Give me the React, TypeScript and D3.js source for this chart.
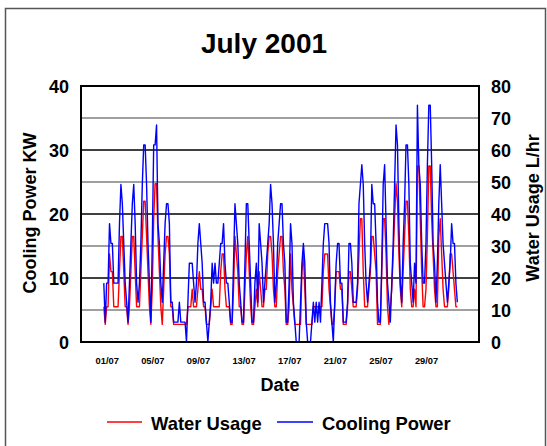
import React from "react";
import * as d3 from "d3";

// Date axis: day offset from 01/07 (00:00)
const tickDays = [0, 4, 8, 12, 16, 20, 24, 28];
const tickLabels = ["01/07", "05/07", "09/07", "13/07", "17/07", "21/07", "25/07", "29/07"];
const leftTicks = [0, 10, 20, 30, 40];
const rightTicks = [0, 10, 20, 30, 40, 50, 60, 70, 80];
const gridMajor = [10, 20, 30];
const gridMinor = [5, 15, 25, 35];

// samples every 3 hours starting at day -0.3
const startDay = -0.3;
const stepDays = 0.125;

// Cooling Power (KW), one row per day
const coolingPower: number[] = [
  9.2, 3.1, 9.2, 9.2, 18.5, 15.4, 15.4, 9.2,
  9.2, 9.2, 9.2, 18.5, 24.6, 21.6, 15.4, 9.2,
  6.2, 3.1, 9.2, 15.4, 21.6, 24.6, 18.5, 9.2,
  6.2, 9.2, 15.4, 24.6, 30.8, 30.8, 24.6, 15.4,
  9.2, 3.1, 15.4, 30.8, 30.8, 33.9, 18.5, 15.4,
  9.2, 6.2, 12.3, 18.5, 21.6, 21.6, 18.5, 6.2,
  6.2, 3.1, 3.1, 3.1, 3.1, 6.2, 3.1, 3.1,
  3.1, 3.1, 0, 6.2, 12.3, 12.3, 12.3, 9.2,
  6.2, 9.2, 15.4, 18.5, 15.4, 12.3, 6.2, 6.2,
  3.1, 0, 3.1, 6.2, 12.3, 9.2, 12.3, 9.2,
  9.2, 12.3, 15.4, 15.4, 18.5, 12.3, 9.2, 9.2,
  6.2, 3.1, 3.1, 12.3, 21.6, 18.5, 15.4, 9.2,
  6.2, 3.1, 3.1, 12.3, 21.6, 21.6, 15.4, 9.2,
  3.1, 3.1, 9.2, 12.3, 6.2, 18.5, 15.4, 12.3,
  6.2, 9.2, 12.3, 15.4, 18.5, 24.6, 21.6, 15.4,
  6.2, 9.2, 15.4, 18.5, 21.6, 21.6, 15.4, 12.3,
  3.1, 3.1, 9.2, 18.5, 15.4, 6.2, 3.1, 0,
  0, 0, 6.2, 12.3, 15.4, 12.3, 3.1, 0,
  0, 0, 3.1, 6.2, 3.1, 6.2, 3.1, 6.2,
  3.1, 9.2, 15.4, 18.5, 18.5, 18.5, 15.4, 6.2,
  3.1, 0, 6.2, 12.3, 15.4, 15.4, 9.2, 9.2,
  3.1, 3.1, 3.1, 6.2, 15.4, 15.4, 12.3, 6.2,
  6.2, 6.2, 9.2, 21.6, 24.6, 27.7, 24.6, 15.4,
  9.2, 6.2, 9.2, 12.3, 24.6, 21.6, 21.6, 15.4,
  6.2, 3.1, 3.1, 12.3, 24.6, 27.7, 18.5, 9.2,
  6.2, 3.1, 9.2, 15.4, 24.6, 33.9, 30.8, 18.5,
  9.2, 6.2, 15.4, 21.6, 30.8, 30.8, 24.6, 12.3,
  9.2, 6.2, 12.3, 9.2, 37.0, 27.7, 24.6, 15.4,
  9.2, 9.2, 15.4, 27.7, 37.0, 37.0, 27.7, 15.4,
  12.3, 6.2, 12.3, 21.6, 27.7, 21.6, 15.4, 12.3,
  9.2, 6.2, 9.2, 12.3, 18.5, 15.4, 15.4, 9.2,
  6.2,
];

// Water Usage (L/hr), one row per day
const waterUsage: number[] = [
  11, 5.5, 11, 11, 27.5, 22, 22, 11,
  11, 11, 11, 22, 33, 33, 22, 11,
  11, 5.5, 11, 22, 33, 33, 22, 11,
  11, 11, 22, 33, 44, 44, 33, 22,
  11, 5.5, 16.5, 38.5, 49.5, 49.5, 33, 22,
  11, 5.5, 16.5, 27.5, 33, 33, 27.5, 11,
  11, 5.5, 5.5, 5.5, 5.5, 5.5, 5.5, 5.5,
  5.5, 5.5, 5.5, 11, 11, 11, 16.5, 11,
  11, 11, 16.5, 22, 16.5, 16.5, 11, 11,
  5.5, 5.5, 5.5, 11, 16.5, 11, 11, 11,
  11, 11, 22, 27.5, 27.5, 16.5, 11, 11,
  11, 5.5, 5.5, 16.5, 33, 27.5, 22, 11,
  11, 5.5, 5.5, 16.5, 27.5, 33, 22, 11,
  5.5, 5.5, 11, 16.5, 11, 22, 16.5, 11,
  11, 16.5, 16.5, 27.5, 33, 33, 27.5, 16.5,
  11, 11, 22, 27.5, 33, 33, 22, 16.5,
  5.5, 5.5, 11, 27.5, 16.5, 11, 5.5, 5.5,
  5.5, 5.5, 5.5, 22, 27.5, 16.5, 5.5, 5.5,
  5.5, 5.5, 5.5, 11, 11, 11, 11, 11,
  11, 11, 22, 27.5, 27.5, 27.5, 16.5, 11,
  5.5, 5.5, 11, 22, 22, 22, 16.5, 16.5,
  5.5, 5.5, 5.5, 11, 22, 22, 16.5, 11,
  11, 11, 16.5, 27.5, 38.5, 38.5, 22, 11,
  11, 11, 16.5, 22, 33, 33, 27.5, 22,
  5.5, 5.5, 5.5, 22, 38.5, 38.5, 27.5, 11,
  5.5, 11, 16.5, 27.5, 38.5, 49.5, 44, 27.5,
  16.5, 11, 22, 33, 44, 44, 33, 16.5,
  11, 11, 16.5, 11, 55, 55, 38.5, 22,
  11, 11, 16.5, 33, 55, 55, 38.5, 27.5,
  16.5, 11, 11, 33, 38.5, 27.5, 16.5, 11,
  11, 11, 16.5, 27.5, 27.5, 22, 16.5, 11,
  11,
];

const FONT = "'Liberation Sans', Arial, Helvetica, sans-serif";

export default function App() {
  const W = 547;
  const H = 446;
  const left = 81, right = 479, top = 86, bottom = 342;

  const x = d3.scaleLinear().domain([-2.3, 32.6]).range([left, right]);
  const yL = d3.scaleLinear().domain([0, 40]).range([bottom, top]);
  const yR = d3.scaleLinear().domain([0, 80]).range([bottom, top]);

  const tAt = (i: number) => startDay + i * stepDays;
  const coolLine = d3
    .line<number>()
    .x((_, i) => x(tAt(i)))
    .y((d) => yL(d));
  const waterLine = d3
    .line<number>()
    .x((_, i) => x(tAt(i)))
    .y((d) => yR(d));

  return (
    <svg
      width={W}
      height={H}
      style={{ position: "absolute", left: 0, top: 0, background: "#fff" }}
      fontFamily={FONT}
    >
      <rect x={0} y={0} width={W} height={H} fill="#fff" />
      <rect x={5.5} y={8.5} width={540} height={445} fill="none" stroke="#555" strokeWidth={1.5} />

      <text x={264} y={53} textAnchor="middle" fontSize={28} fontWeight="bold" fill="#000">
        July 2001
      </text>

      {/* grid */}
      {gridMinor.map((v) => (
        <line key={"gm" + v} x1={left} x2={right} y1={yL(v)} y2={yL(v)} stroke="#808080" strokeWidth={1.3} />
      ))}
      {gridMajor.map((v) => (
        <line key={"gM" + v} x1={left} x2={right} y1={yL(v)} y2={yL(v)} stroke="#000" strokeWidth={1.3} />
      ))}

      {/* series */}
      <path d={waterLine(waterUsage) || ""} fill="none" stroke="#ff0000" strokeWidth={1.4} strokeLinejoin="round" />
      <path d={coolLine(coolingPower) || ""} fill="none" stroke="#0000ff" strokeWidth={1.4} strokeLinejoin="round" />

      {/* frame */}
      <rect x={left} y={top} width={right - left} height={bottom - top} fill="none" stroke="#000" strokeWidth={2} />

      {/* left axis labels */}
      {leftTicks.map((v) => (
        <text key={"l" + v} x={69} y={yL(v) + 6.5} textAnchor="end" fontSize={18} fontWeight="bold">
          {v}
        </text>
      ))}
      {/* right axis labels */}
      {rightTicks.map((v) => (
        <text key={"r" + v} x={491} y={yR(v) + 6.5} textAnchor="start" fontSize={18} fontWeight="bold">
          {v}
        </text>
      ))}

      {/* x labels */}
      {tickDays.map((d, i) => (
        <text key={"x" + d} x={x(d)} y={364} textAnchor="middle" fontSize={9.3} fontWeight="bold">
          {tickLabels[i]}
        </text>
      ))}

      <text x={280} y={391} textAnchor="middle" fontSize={18} fontWeight="bold">
        Date
      </text>

      <text
        transform="translate(36,213) rotate(-90)"
        textAnchor="middle"
        fontSize={18}
        fontWeight="bold"
      >
        Cooling Power KW
      </text>
      <text
        transform="translate(539,208) rotate(-90)"
        textAnchor="middle"
        fontSize={18}
        fontWeight="bold"
      >
        Water Usage L/hr
      </text>

      {/* legend */}
      <line x1={107} x2={142} y1={422} y2={422} stroke="#ff0000" strokeWidth={1.3} />
      <text x={151} y={430} fontSize={18.4} fontWeight="bold">
        Water Usage
      </text>
      <line x1={277} x2={313} y1={422} y2={422} stroke="#0000ff" strokeWidth={1.3} />
      <text x={322} y={430} fontSize={18.4} fontWeight="bold">
        Cooling Power
      </text>
    </svg>
  );
}
